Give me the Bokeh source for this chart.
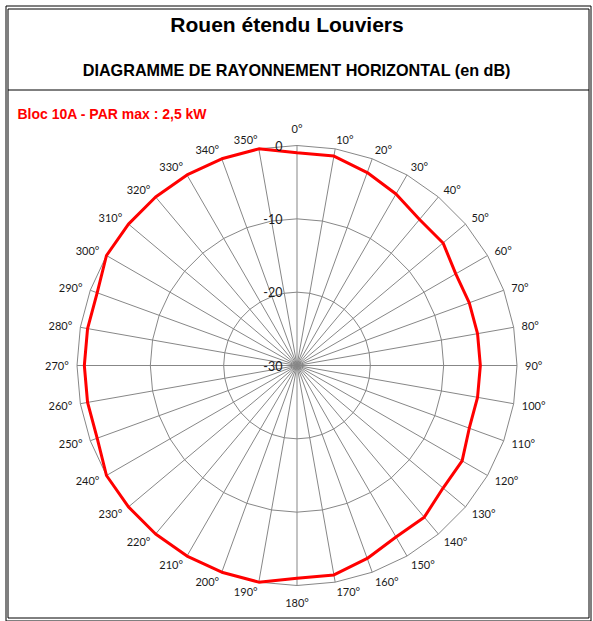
import numpy as np
from bokeh.plotting import figure
from bokeh.models import Range1d
from bokeh.core.properties import value
from bokeh.embed import file_html
from bokeh.resources import INLINE

# ---------------- data ----------------
title_text = "Rouen étendu Louviers"
subtitle_text = "DIAGRAMME DE RAYONNEMENT HORIZONTAL  (en dB)"
series_label = "Bloc 10A - PAR max : 2,5 kW"

angles_deg = [0, 10, 20, 30, 40, 50, 60, 70, 80, 90, 100, 110,
              120, 130, 140, 150, 160, 170, 180, 190, 200, 210, 220, 230,
              240, 250, 260, 270, 280, 290, 300, 310, 320, 330, 340, 350]
gain_db = [-1, -1, -2, -3, -4, -4, -5, -5, -5, -5, -5, -5,
           -4, -4, -3, -3, -2, -1, -1, 0, 0, 0, 0, 0,
           0, -1, -1, -1, -1, -1, 0, 0, 0, 0, 0, 0]
angle_labels = ["0°", "10°", "20°", "30°", "40°", "50°", "60°", "70°", "80°",
                "90°", "100°", "110°", "120°", "130°", "140°", "150°", "160°",
                "170°", "180°", "190°", "200°", "210°", "220°", "230°", "240°",
                "250°", "260°", "270°", "280°", "290°", "300°", "310°", "320°",
                "330°", "340°", "350°"]
db_ticks = [0, -10, -20, -30]
db_tick_labels = ["0", "-10", "-20", "-30"]
db_rings = [-20, -10, 0]
db_min, db_max = -30, 0

# ---------------- layout (screen-like coordinates, y downward) ----------------
X0, X1, Y0, Y1 = 0, 593, 0, 621
CX, CY, R_OUT = 296.5, 365.0, 220.0
R_ANCHOR = 223.0


def to_xy(a_deg, db):
    a = np.deg2rad(np.asarray(a_deg, dtype=float))
    r = (np.asarray(db, dtype=float) - db_min) / (db_max - db_min) * R_OUT
    return CX + r * np.sin(a), CY - r * np.cos(a)


p = figure(width=X1 - X0, height=Y1 - Y0, output_backend="svg",
           toolbar_location=None, x_range=Range1d(X0, X1), y_range=Range1d(Y1, Y0),
           x_axis_type=None, y_axis_type=None, min_border=0,
           background_fill_color="white", border_fill_color="white")
p.outline_line_color = None
p.grid.visible = False

# frame (double border + divider)
p.multi_line(xs=[[5.5, 590.5, 590.5, 5.5, 5.5], [7.5, 588.5, 588.5, 7.5, 7.5], [7.5, 588.5]],
             ys=[[5.5, 5.5, 620.5, 620.5, 5.5], [8.5, 8.5, 617.5, 617.5, 8.5], [89.5, 89.5]],
             line_color="black", line_width=1)

grid_color = "#878787"
# ring polygons
ring_xs, ring_ys = [], []
closed_angles = angles_deg + [angles_deg[0]]
for lvl in db_rings:
    xs, ys = to_xy(closed_angles, [lvl] * len(closed_angles))
    ring_xs.append(list(xs))
    ring_ys.append(list(ys))
p.multi_line(xs=ring_xs, ys=ring_ys, line_color=grid_color, line_width=1)

# spokes
sx0, sy0 = to_xy(angles_deg, [db_min] * len(angles_deg))
sx1, sy1 = to_xy(angles_deg, [db_max] * len(angles_deg))
p.segment(x0=sx0, y0=sy0, x1=sx1, y1=sy1, line_color=grid_color, line_width=1)

# data line
lx, ly = to_xy(closed_angles, gain_db + [gain_db[0]])
p.line(lx, ly, line_color="#ff0000", line_width=3, line_join="round")

# angle labels (placed outside the outer ring, like a spreadsheet radar chart)
lab_x, lab_y = [], []
for ang, lab in zip(angles_deg, angle_labels):
    t = np.deg2rad(ang)
    s, c = np.sin(t), np.cos(t)
    half_w = 3.4 * (len(lab) - 1) + 1.4
    if abs(s) < 1e-9:
        dx, dy = 0.0, 14.0 * np.sign(c)
    else:
        dx = np.sign(s) * (half_w + 5.5 * abs(s))
        dy = 6.5 * c
    lab_x.append(CX + R_ANCHOR * s + dx)
    lab_y.append(CY - R_ANCHOR * c - dy)
p.text(x=lab_x, y=lab_y, text=angle_labels,
       text_font=value("Lato"), text_font_size="11px", text_color="#1a1a1a",
       text_align="center", text_baseline="middle")

# dB tick labels
tx, ty = to_xy([0] * len(db_ticks), db_ticks)
p.text(x=[282] * len(db_ticks), y=ty, text=db_tick_labels,
       text_font=value("Lato"), text_font_size="12.5px", text_color="#1a1a1a",
       text_align="right", text_baseline="middle")

# titles
p.text(x=[286.5], y=[23.5], text=[title_text], text_font=value("Liberation Sans"),
       text_font_style="bold", text_font_size="21px", text_color="black",
       text_align="center", text_baseline="middle")
p.text(x=[298.5], y=[69.5], text=[subtitle_text], text_font=value("Liberation Sans"),
       text_font_style="bold", text_font_size="16.2px", text_color="black",
       text_align="center", text_baseline="middle")
p.text(x=[17], y=[113.5], text=[series_label], text_font=value("Liberation Sans"),
       text_font_style="bold", text_font_size="14px", text_color="#ff0000",
       text_align="left", text_baseline="middle")

open("out.html", "w").write(file_html(p, INLINE))
